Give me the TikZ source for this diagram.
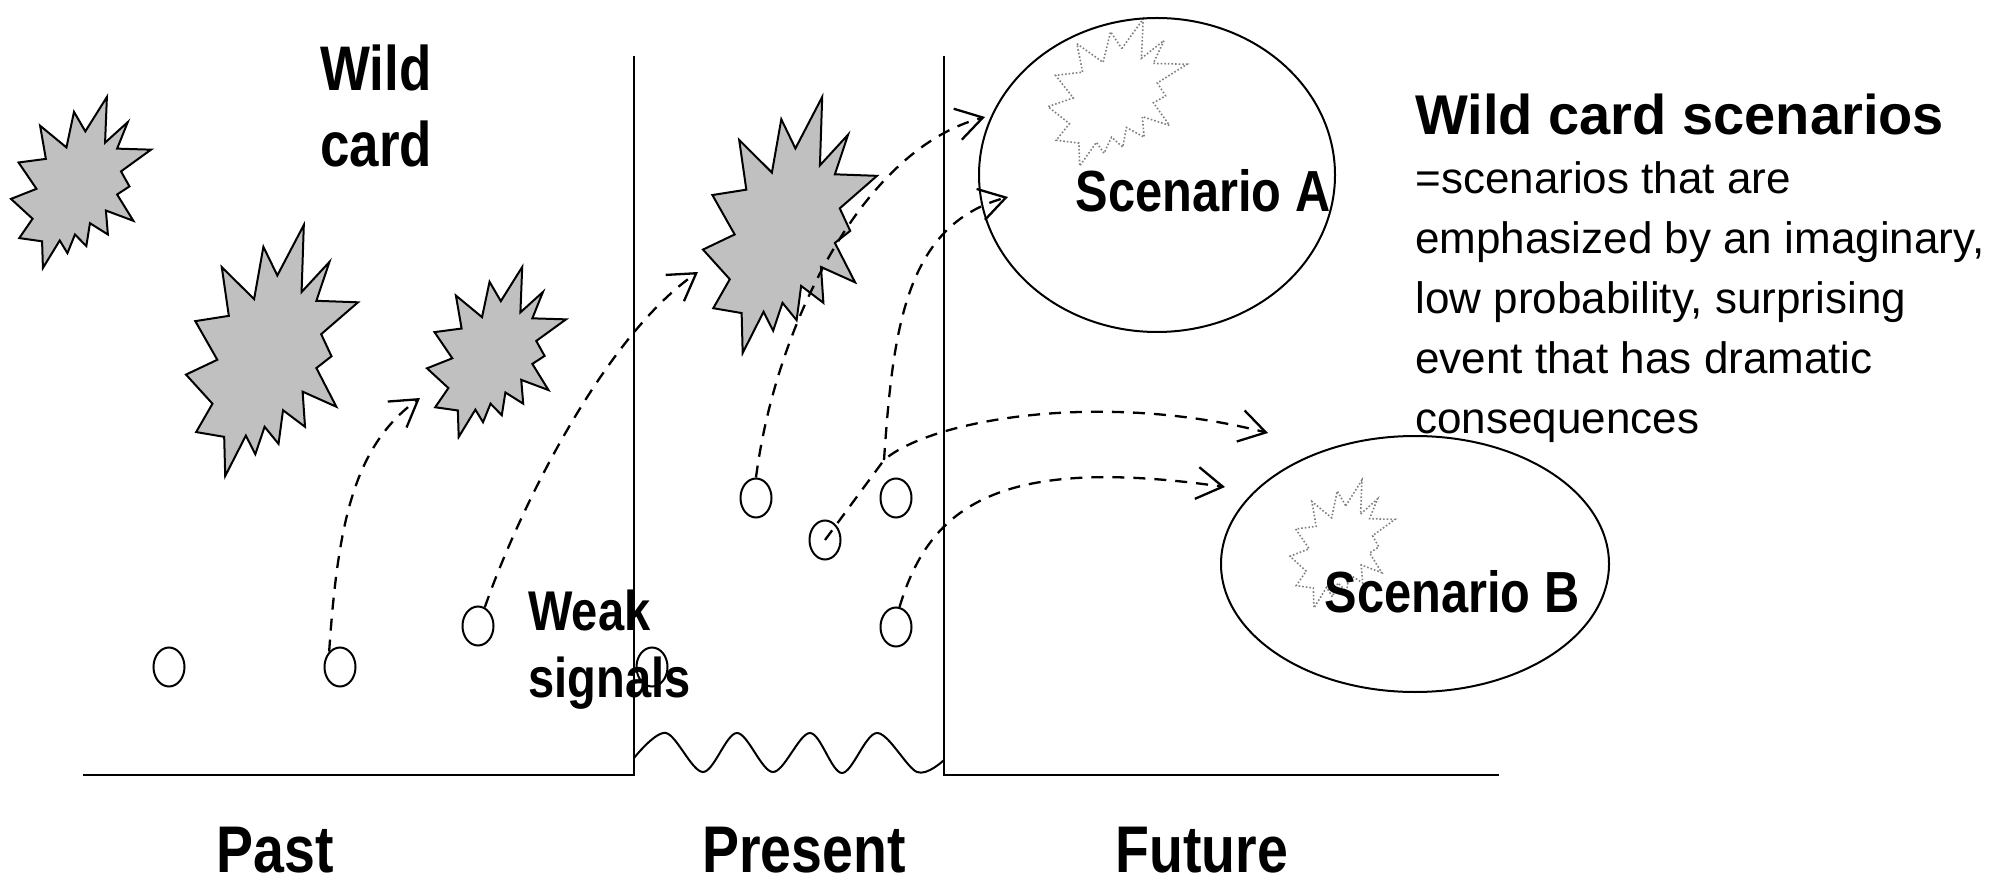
\documentclass[tikz,border=0pt]{standalone}
\usepackage{fontspec}
\setmainfont{Liberation Sans}
\newfontfamily\narrowsf[FakeStretch=0.84]{Liberation Sans}
\usepackage{xcolor}
\usepackage{tikz}
\usetikzlibrary{arrows.meta,positioning,shapes.geometric}
\definecolor{blastgray}{RGB}{192,192,192}

% explosion outline in a 100x100 box, #2/#3 = top left, #4/#5 = width/height
\newcommand{\blast}[5]{%
  \draw[#1,shift={(#2,#3)},xscale=#4/100,yscale=#5/100]
    (53.1,20.1) -- (68.5,0) -- (67.2,26.7) -- (83.4,14.7) -- (75.8,30.2)
    -- (100,30.8) -- (78.6,43.5) -- (84.6,52.3) -- (75.8,57.0) -- (87.4,72.4)
    -- (67.8,66.4) -- (69.2,80.4) -- (56.4,73.8) -- (53.8,87.2) -- (45.7,80.4)
    -- (40.3,91.3) -- (34.8,83.9) -- (22.8,100) -- (22.2,84.4) -- (5.9,82.5)
    -- (15.4,71.2) -- (0,59.6) -- (18.2,53.7) -- (5.4,38.3) -- (24.9,36.2)
    -- (20.8,16.8) -- (39.6,29.5) -- (45.0,8.7) -- cycle;}

\begin{document}
\begin{tikzpicture}[x=0.5pt,y=-0.5pt,axis/.style={line width=1.2pt},burst/.style={draw,fill=blastgray,line width=1pt,line join=miter},ghost/.style={draw=gray,densely dotted,line width=0.8pt},sig/.style={draw,ellipse,line width=1pt,minimum width=15.5pt,minimum height=19.5pt,inner sep=0pt},scen/.style={draw,ellipse,line width=1pt,inner sep=0pt},flow/.style={line width=1.15pt,dash pattern=on 6pt off 4.5pt,-{Straight Barb[length=13pt,width=16pt]}},era/.style={inner sep=0pt,anchor=base,font=\narrowsf\bfseries\fontsize{33}{40}\selectfont},tag/.style={inner sep=0pt,anchor=north west,align=left}]
\useasboundingbox (0,0) rectangle (1997,887);
% time axis
\draw[axis] (83,775) -- (634,775) -- (634,56);
\draw[axis] (944,56) -- (944,775) -- (1499,775);
\draw[line width=1pt] plot[smooth,tension=0.55] coordinates {(634,758) (666,733) (703,772) (737,733) (773,772) (810,733) (842,773) (877,733) (917,772) (944,760)};
% wild cards
\blast{burst}{11}{97}{140}{171}
\blast{burst}{186}{225}{172}{251}
\blast{burst}{427}{267}{139}{170}
\blast{burst}{703}{97}{174}{256}
\blast{ghost}{1048}{19}{139}{147}
\blast{ghost}{1290}{480}{105}{128}
% scenarios
\node[scen,minimum width=178pt,minimum height=157pt] (scA) at (1157,175) {};
\node[scen,minimum width=194pt,minimum height=128pt] (scB) at (1415,564) {};
% weak signals
\node[sig] (c1) at (169,667) {};
\node[sig] (c2) at (340,667) {};
\node[sig] (c3) at (478,626) {};
\node[sig] (c4) at (652,667) {};
\node[sig] (c5) at (756,498) {};
\node[sig] (c6) at (825,540) {};
\node[sig] (c7) at (896,498) {};
\node[sig] (c8) at (896,627) {};
\coordinate (toS3) at (420,398);
\coordinate (toS4) at (698,272);
\coordinate (toA1) at (985,117);
\coordinate (fork) at (884,460);
\coordinate (toA2) at (1008,197);
\coordinate (toB1) at (1268,433);
\coordinate (toB2) at (1225,487);
\draw[flow] (c2.125) .. controls (338,520) and (355,445) .. (toS3);
\draw[flow] (c3.70) .. controls (515,520) and (600,340) .. (toS4);
\draw[flow] (c5.north) .. controls (775,330) and (860,150) .. (toA1);
\draw[flow] (fork) .. controls (893,330) and (905,225) .. (toA2);
\draw[flow] (c6.center) -- (fork) .. controls (930,420) and (1100,390) .. (toB1);
\draw[flow] (c8.80) .. controls (930,505) and (1000,455) .. (toB2);
% labels
\node[tag,font=\narrowsf\bfseries\fontsize{31.5}{38}\selectfont] (wild) at (320,44) {Wild\\card};
\node[tag,font=\narrowsf\bfseries\fontsize{28}{33.5}\selectfont] (weak) at (528,590) {Weak\\signals};
\node[inner sep=0pt,anchor=base,font=\narrowsf\bfseries\fontsize{29}{35}\selectfont] (scAt) at (1203,212) {Scenario A};
\node[inner sep=0pt,anchor=base,font=\narrowsf\bfseries\fontsize{29}{35}\selectfont] (scBt) at (1452,612) {Scenario B};
\node[era] (past) at (275,872) {Past};
\node[era] (present) at (804,872) {Present};
\node[era] (future) at (1202,872) {Future};
\node[inner sep=0pt,anchor=base west,font=\bfseries\fontsize{28}{34}\selectfont] (title) at (1415,135) {Wild card scenarios};
\node[below=13.25pt of title.base west,tag,font=\fontsize{22}{30}\selectfont] (defn) {=scenarios that are\\emphasized by an imaginary,\\low probability, surprising\\event that has dramatic\\consequences};
\end{tikzpicture}
\end{document}
